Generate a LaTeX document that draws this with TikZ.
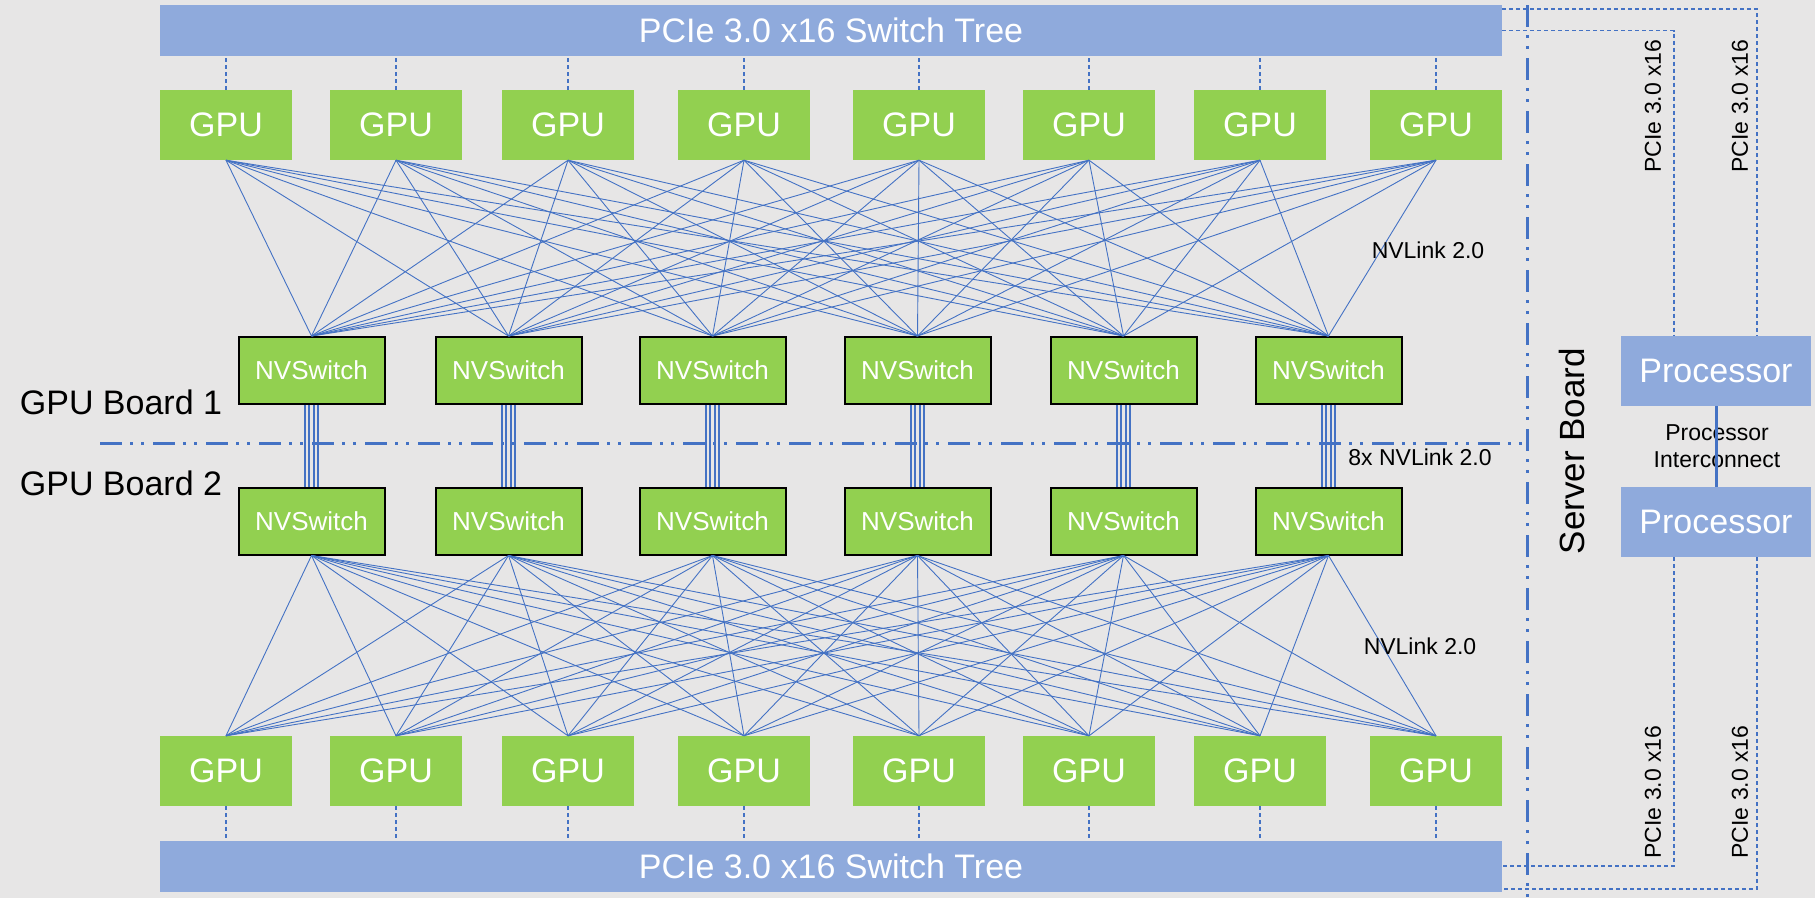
\documentclass[tikz,border=0pt]{standalone}
\usepackage{fontspec}
\setmainfont{Liberation Sans}
\definecolor{gpugreen}{HTML}{92D050}
\definecolor{pcieblue}{HTML}{8FAADC}
\definecolor{linkblue}{HTML}{4472C4}
\definecolor{bggray}{HTML}{E7E6E6}
\begin{document}
\begin{tikzpicture}[x=1pt,y=-1pt,
    gpu/.style={fill=gpugreen,text=white,minimum width=132pt,minimum height=70pt,inner sep=0pt,font=\fontsize{34}{40}\selectfont},
    nvsw/.style={fill=gpugreen,draw=black,line width=2pt,text=white,minimum width=146pt,minimum height=67pt,inner sep=0pt,font=\fontsize{26}{30}\selectfont},
    tree/.style={fill=pcieblue,text=white,minimum width=1342pt,minimum height=51pt,inner sep=0pt,font=\fontsize{34}{40}\selectfont},
    proc/.style={fill=pcieblue,text=white,minimum width=190pt,minimum height=70pt,inner sep=0pt,font=\fontsize{34}{40}\selectfont},
    big/.style={font=\fontsize{34}{40}\selectfont,inner sep=0pt},
    lbl/.style={font=\fontsize{23}{27}\selectfont,inner sep=0pt,align=center},
    link/.style={draw=linkblue,line width=0.9pt},
    bundle/.style={draw=linkblue,line width=2pt},
    pcie/.style={draw=linkblue,line width=1.2pt,dash pattern=on 4pt off 3pt},
    boardline/.style={draw=linkblue,line width=3pt,dash pattern=on 22pt off 8pt on 3pt off 8pt on 3pt off 9pt}]

            \fill[bggray] (0,0) rectangle (1815,898);
            \useasboundingbox (0,0) rectangle (1815,898);

            \draw[boardline] (1527,5) -- (1527,898);
            \draw[boardline] (100,443) -- (1527,443);

            \node[tree] (tree1) at (831,30.5) {PCIe 3.0 x16 Switch Tree};
            \node[tree] (tree2) at (831,866) {PCIe 3.0 x16 Switch Tree};

            \node[gpu] (g1) at (226,125) {GPU};
            \node[gpu] (g2) at (396,125) {GPU};
            \node[gpu] (g3) at (568,125) {GPU};
            \node[gpu] (g4) at (744,125) {GPU};
            \node[gpu] (g5) at (919,125) {GPU};
            \node[gpu] (g6) at (1089,125) {GPU};
            \node[gpu] (g7) at (1260,125) {GPU};
            \node[gpu] (g8) at (1436,125) {GPU};

            \node[nvsw] (s1) at (311.5,370.5) {NVSwitch};
            \node[nvsw] (s2) at (508.5,370.5) {NVSwitch};
            \node[nvsw] (s3) at (712.5,370.5) {NVSwitch};
            \node[nvsw] (s4) at (917.5,370.5) {NVSwitch};
            \node[nvsw] (s5) at (1123.5,370.5) {NVSwitch};
            \node[nvsw] (s6) at (1328.5,370.5) {NVSwitch};

            \node[nvsw] (sb1) at (311.5,521) {NVSwitch};
            \node[nvsw] (sb2) at (508.5,521) {NVSwitch};
            \node[nvsw] (sb3) at (712.5,521) {NVSwitch};
            \node[nvsw] (sb4) at (917.5,521) {NVSwitch};
            \node[nvsw] (sb5) at (1123.5,521) {NVSwitch};
            \node[nvsw] (sb6) at (1328.5,521) {NVSwitch};

            \node[gpu] (gb1) at (226,771) {GPU};
            \node[gpu] (gb2) at (396,771) {GPU};
            \node[gpu] (gb3) at (568,771) {GPU};
            \node[gpu] (gb4) at (744,771) {GPU};
            \node[gpu] (gb5) at (919,771) {GPU};
            \node[gpu] (gb6) at (1089,771) {GPU};
            \node[gpu] (gb7) at (1260,771) {GPU};
            \node[gpu] (gb8) at (1436,771) {GPU};

            \node[proc] (pr1) at (1716,371) {Processor};
            \node[proc] (pr2) at (1716,522) {Processor};

            \foreach \g in {1,...,8} {
                \draw[pcie] (g\g.north) -- (g\g.north |- tree1.south);
                \draw[pcie] (gb\g.south) -- (gb\g.south |- tree2.north);
                \foreach \s in {1,...,6} {
                    \draw[link] (g\g.south) -- (s\s.north);
                    \draw[link] (sb\s.south) -- (gb\g.north);
                }
            }

            \foreach \s in {1,...,6}
                \foreach \o in {-6.5,-2.2,2.2,6.5}
                    \draw[bundle] ([xshift=\o pt]s\s.south) -- ([xshift=\o pt]sb\s.north);

            \draw[pcie] (tree1.east) -| ([xshift=-42pt]pr1.north);
            \draw[pcie] ([yshift=21.5pt]tree1.east) -| ([xshift=41pt]pr1.north);
            \draw[pcie] ([xshift=-42pt]pr2.south) |- (tree2.east);
            \draw[pcie] ([xshift=41pt]pr2.south) |- ([yshift=-23pt]tree2.east);

            \node[lbl] (ic) at (1717,446) {Processor\\Interconnect};
            \draw[linkblue,line width=3pt] (pr1.south) -- (pr2.north);

            \node[big] (b1) at (121,402) {GPU Board 1};
            \node[big] (b2) at (121,483) {GPU Board 2};
            \node[big,rotate=90,font=\fontsize{35}{40}\selectfont] (srv) at (1572,451) {Server Board};

            \node[lbl] (nvl1) at (1428,250) {NVLink 2.0};
            \node[lbl] (nvl2) at (1420,646) {NVLink 2.0};
            \node[lbl] (nvl8) at (1420,457) {8x NVLink 2.0};

            \node[lbl,rotate=90] (pc1) at (1653,106) {PCIe 3.0 x16};
            \node[lbl,rotate=90] (pc2) at (1740,106) {PCIe 3.0 x16};
            \node[lbl,rotate=90] (pc3) at (1653,792) {PCIe 3.0 x16};
            \node[lbl,rotate=90] (pc4) at (1740,792) {PCIe 3.0 x16};

        \end{tikzpicture}
\end{document}
